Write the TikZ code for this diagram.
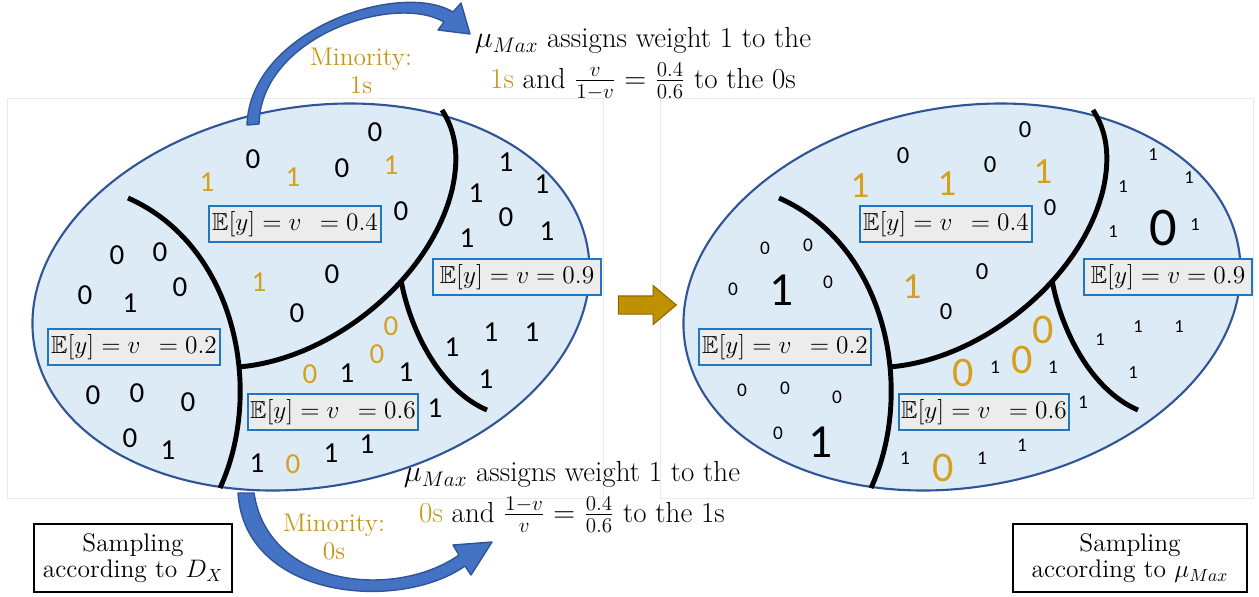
\documentclass[tikz,border=0pt]{standalone}
\usepackage{amssymb}
\usepackage{fontspec}
\newfontfamily\digitfont{Carlito}
\usetikzlibrary{shapes.arrows}
\definecolor{zonefill}{RGB}{221,235,247}
\definecolor{zoneline}{RGB}{47,85,151}
\definecolor{boxfill}{RGB}{236,236,236}
\definecolor{boxline}{RGB}{31,119,196}
\definecolor{minor}{RGB}{214,160,28}
\definecolor{minortext}{RGB}{196,150,22}
\definecolor{arrowfill}{RGB}{68,114,196}
\definecolor{arrowline}{RGB}{47,85,151}
\definecolor{goldfill}{RGB}{191,144,0}
\definecolor{goldline}{RGB}{140,104,0}
\definecolor{panelline}{RGB}{234,234,234}

\tikzset{
  zone/.style={fill=zonefill, draw=zoneline, line width=1.2pt},
  cut/.style={line width=2.8pt},
  meanbox/.style={draw=boxline, fill=boxfill, line width=1.1pt, minimum width=98pt, minimum height=20pt, inner sep=1pt, font=\fontsize{14}{15}\selectfont},
  digit/.style={inner sep=0pt, font=\digitfont\fontsize{16.5}{17}\selectfont},
  note/.style={align=center, font=\fontsize{16.5}{23}\selectfont},
  minority/.style={align=center, text=minortext, font=\fontsize{14.5}{16}\selectfont},
  samplebox/.style={draw, line width=1.2pt, align=center, minimum height=39pt, font=\fontsize{14.5}{15}\selectfont},
  curvedarrow/.style={fill=arrowfill, draw=arrowline, line width=0.8pt, line join=round},
  panel/.style={draw=panelline, line width=0.5pt}
}

\begin{document}
\begin{tikzpicture}[x=0.02cm, y=-0.02cm]
\useasboundingbox (0,0) rectangle (1259,596);
% faint panel frames
\draw[panel] (7,98) rectangle (603,498);
\draw[panel] (660,98) rectangle (1253,498);

% both ellipses: outline, cuts and mean boxes
\foreach \dx/\s in {0/L,651/R}{
  \begin{scope}[xshift=\dx*0.02cm]
    \draw[zone, rotate around={10.2:(311,297)}] (311,297) ellipse [x radius=5.62cm, y radius=3.8cm];
    \draw[cut] (128,198) .. controls (235,245) and (265,390) .. (220,488);
    \draw[cut] (238,367) .. controls (330,360) and (430,280) .. (452,190) .. controls (460,155) and (455,130) .. (442,110);
    \draw[cut] (401,280) .. controls (410,330) and (440,390) .. (487,410);
    \node[meanbox] (\s04) at (295,224) {$\mathbb{E}[y]=v\,\;=0.4$};
    \node[meanbox, minimum width=96pt] (\s09) at (517,277) {$\mathbb{E}[y]=v=0.9$};
    \node[meanbox] (\s02) at (134,347) {$\mathbb{E}[y]=v\,\;=0.2$};
    \node[meanbox, minimum width=96pt] (\s06) at (333,412) {$\mathbb{E}[y]=v\,\;=0.6$};
  \end{scope}
}

% samples drawn from D_X
\foreach \x/\y/\d/\c [count=\i] in {253/159/0/black, 207/182/1/minor, 293/177/1/minor, 342/168/0/black, 375/132/0/black,
    391/165/1/minor, 401/211/0/black, 259/282/1/minor, 332/274/0/black, 297/313/0/black,
    117/255/0/black, 160/252/0/black, 85/295/0/black, 180/287/0/black, 130/303/1/black,
    93/395/0/black, 137/393/0/black, 188/402/0/black, 130/438/0/black, 168/450/1/black,
    391/326/0/minor, 377/354/0/minor, 310/374/0/minor, 293/464/0/minor, 347/373/1/black,
    406/372/1/black, 435/408/1/black, 257/463/1/black, 331/453/1/black, 367/444/1/black,
    506/162/1/black, 476/193/1/black, 542/184/1/black, 467/238/1/black, 547/231/1/black,
    452/347/1/black, 491/332/1/black, 532/332/1/black, 486/379/1/black, 506/217/0/black}
  \node[digit, text=\c] (l\i) at (\x,\y) {\d};

% samples weighted by mu_Max (size = weight)
\foreach \x/\y/\d/\c/\sz [count=\i] in {903/156/0/black/14, 860/186/1/minor/21, 947/184/1/minor/21, 990/165/0/black/14, 1025/130/0/black/14,
    1043/172/1/minor/21, 1050/208/0/black/14, 912/287/1/minor/21, 982/272/0/black/14, 946/312/0/black/14,
    765/248/0/black/11, 808/245/0/black/11, 733/289/0/black/11, 828/282/0/black/11, 782/290/1/black/27,
    742/390/0/black/11, 785/388/0/black/11, 837/397/0/black/11, 778/433/0/black/11, 821/442/1/black/27,
    1043/330/0/minor/24, 1022/360/0/minor/24, 963/373/0/minor/24, 943/468/0/minor/24, 995/367/1/black/11,
    1053/367/1/black/11, 1083/402/1/black/11, 905/458/1/black/11, 982/458/1/black/11, 1022/445/1/black/11,
    1153/155/1/black/10.5, 1123/187/1/black/10.5, 1189/178/1/black/10.5, 1113/232/1/black/10.5, 1195/225/1/black/10.5,
    1100/340/1/black/10.5, 1138/327/1/black/10.5, 1179/327/1/black/10.5, 1133/373/1/black/10.5, 1163/228/0/black/31}
  \node[inner sep=0pt, text=\c, font=\digitfont\fontsize{\sz}{\sz}\selectfont] (r\i) at (\x,\y) {\d};

% reweighting arrow
\node[single arrow, fill=goldfill, draw=goldline, line width=0.6pt, inner xsep=0pt, inner ysep=0.17cm,
  minimum height=1.16cm, single arrow head extend=0.21cm, single arrow tip angle=80] (reweight) at (642,305) {};

% curved arrows to the notes
\coordinate (upstart) at (247,125);
\coordinate (uptip) at (470,34);
\filldraw[curvedarrow] (upstart) .. controls (250,30) and (400,-20) .. (453,12) -- (461,3) -- (uptip) -- (438,30)
  -- (444,22) .. controls (395,-7) and (261,36) .. (259,124) -- cycle;
\coordinate (downstart) at (238,493);
\coordinate (downtip) at (492,542);
\filldraw[curvedarrow] (downstart) .. controls (245,600) and (400,612) .. (465,566) -- (471,575) -- (downtip) -- (453,545)
  -- (459,555) .. controls (395,600) and (268,587) .. (254,493) -- cycle;

\node[minority] (mintop) at (361,71) {Minority:\\1s};
\node[note] (notetop) at (643,64) {$\mu_{Max}$ assigns weight 1 to the\\{\color{minortext}1s} and $\frac{v}{1-v}=\frac{0.4}{0.6}$ to the 0s};
\node[minority] (minbot) at (334,537) {Minority:\\0s};
\node[note] (notebot) at (572,497) {$\mu_{Max}$ assigns weight 1 to the\\{\color{minortext}0s} and $\frac{1-v}{v}=\frac{0.4}{0.6}$ to the 1s};

\node[samplebox, minimum width=113pt] (sampleL) at (133,558) {Sampling\\according to $D_X$};
\node[samplebox, minimum width=133pt] (sampleR) at (1130,558) {Sampling\\according to $\mu_{Max}$};
\end{tikzpicture}
\end{document}
